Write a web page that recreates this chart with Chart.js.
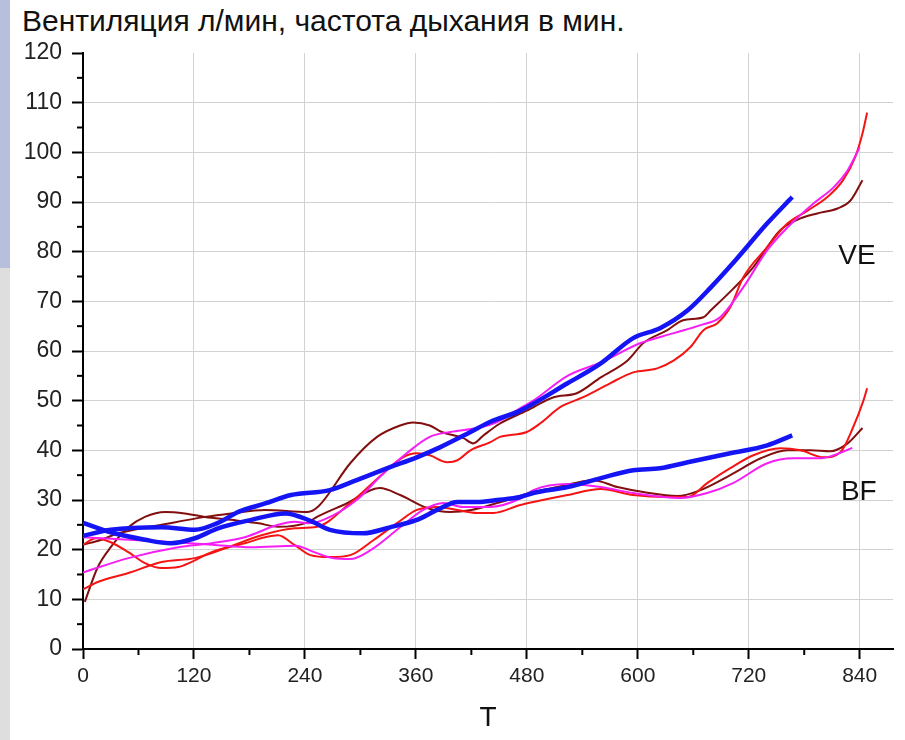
<!DOCTYPE html>
<html>
<head>
<meta charset="utf-8">
<script src="https://cdn.jsdelivr.net/npm/chart.js@4"></script>
<style>
  body { margin: 0; background: #fff; }
  #wrap { position: relative; width: 905px; height: 740px; }
  #strip { position: absolute; left: 0; top: 0; width: 10px; height: 740px;
           background: linear-gradient(#b8bfdc 0, #b8bfdc 268px, #dedede 268px); }
  #title { position: absolute; left: 22px; top: 4px; font: 30px "Liberation Sans", Arial, sans-serif;
           color: #111; white-space: nowrap; }
  canvas { position: absolute; left: 0; top: 0; }
</style>
</head>
<body>
<div id="wrap">
  <div id="strip"></div>
  <div id="title">Вентиляция л/мин, частота дыхания в мин.</div>
  <canvas id="chart" width="905" height="740"></canvas>
</div>
<script>
// Time axis and values, one pair of arrays per curve
const tVeBlue = [0, 30, 85, 121, 146, 168, 197, 225, 267, 296, 332, 361, 386, 416, 440, 473, 524, 560, 595, 624, 654, 679, 703, 740, 767];
const veBlue = [22.8, 24, 24.5, 24, 25.4, 27.6, 29.3, 31, 32, 34, 36.6, 38.6, 40.6, 43.4, 45.7, 48, 53.5, 57.5, 62.6, 64.6, 68.2, 72.8, 77.7, 85.7, 91];

const tBfBlue = [0, 30, 67, 95, 121, 146, 182, 219, 246, 267, 303, 332, 361, 383, 405, 426, 448, 473, 487, 524, 560, 595, 624, 654, 700, 740, 767];
const bfBlue = [25.4, 23.5, 22, 21.3, 22.3, 24.3, 26, 27.3, 25.8, 24, 23.3, 24.5, 26, 28, 29.6, 29.6, 30, 30.6, 31.4, 32.6, 34.4, 36, 36.4, 37.6, 39.4, 41, 43];

const tVeBrown = [0, 20, 38, 85, 132, 160, 197, 243, 255, 289, 318, 343, 357, 375, 388, 411, 422, 433, 451, 480, 509, 534, 560, 589, 606, 632, 649, 671, 679, 703, 725, 754, 776, 794, 816, 830, 843];
const veBrown = [21, 22, 23.3, 25, 26.6, 27.3, 28, 27.6, 28.8, 37.4, 42.7, 45, 45.6, 45, 43.7, 42.5, 41.4, 43, 45.4, 48, 50.7, 51.5, 54.7, 58.1, 61.6, 64.2, 66.2, 66.8, 68.2, 72.5, 76.9, 84.3, 86.7, 87.7, 88.7, 90.3, 94.4];

const tBfBrown = [2, 16, 30, 49, 67, 89, 110, 132, 160, 190, 211, 243, 253, 285, 321, 343, 372, 397, 420, 450, 487, 513, 552, 578, 606, 643, 668, 700, 733, 762, 787, 808, 827, 843];
const bfBrown = [9.5, 16.5, 20.5, 24.5, 26.6, 27.6, 27.3, 26.6, 26, 25.3, 24.6, 25.5, 26.6, 29.3, 32.4, 31, 28.4, 27.6, 28, 29.5, 31.6, 32.6, 34, 32.6, 31.6, 30.8, 32, 35, 38.4, 40, 40, 39.8, 41.4, 44.5];

const tVeRed = [0, 16, 49, 85, 121, 157, 193, 229, 253, 289, 325, 346, 361, 375, 394, 405, 419, 440, 451, 480, 495, 516, 541, 570, 595, 621, 639, 657, 671, 686, 700, 714, 740, 762, 784, 805, 822, 835, 843, 848];
const veRed = [12, 13.5, 15.3, 17.5, 18.3, 20.5, 22.9, 24.3, 24.6, 29.4, 35.4, 38.6, 39.4, 39, 37.6, 38, 40, 41.6, 42.7, 43.7, 45.5, 48.7, 50.7, 53.5, 55.7, 56.5, 58.1, 60.8, 64.2, 65.6, 68.8, 74.8, 80.9, 85.7, 88.3, 91, 94.4, 99, 103.8, 108];

const tBfRed = [0, 14, 30, 49, 67, 85, 103, 117, 139, 175, 197, 211, 229, 246, 267, 289, 314, 340, 361, 383, 405, 426, 444, 473, 487, 524, 560, 595, 632, 654, 675, 700, 725, 754, 776, 801, 819, 833, 844, 848];
const bfRed = [21, 22.3, 21.5, 19.5, 17.3, 16.3, 16.5, 17.5, 19.5, 21.3, 22.5, 22.9, 20.9, 18.9, 18.5, 18.9, 21.9, 25.4, 28, 28.6, 28, 27.4, 27.4, 29, 29.6, 31, 32.2, 31, 30.6, 30.6, 33.4, 36.4, 39, 40.4, 40, 38.6, 39.6, 44.7, 50, 52.5];

const tVeMagenta = [0, 49, 103, 139, 175, 211, 229, 243, 260, 296, 325, 350, 375, 397, 426, 448, 473, 487, 524, 560, 603, 639, 668, 689, 714, 740, 762, 790, 812, 827, 840];
const veMagenta = [15.4, 18.3, 20.5, 21.3, 22.5, 25, 25.6, 25.3, 26, 30, 35.4, 39.4, 42.7, 43.7, 44.5, 45.7, 48.5, 50, 55, 57.7, 61.6, 63.6, 65.2, 66.8, 72.8, 80.3, 84.9, 89.7, 93, 96.4, 101];

const tBfMagenta = [0, 50, 100, 140, 182, 230, 250, 270, 289, 311, 343, 368, 390, 411, 440, 473, 487, 524, 560, 595, 646, 675, 703, 740, 768, 798, 812, 832];
const bfMagenta = [22.5, 22, 21.5, 21, 20.5, 20.8, 19.5, 18.3, 18.1, 19.9, 24.5, 28, 29.4, 28.6, 28.6, 30.3, 32, 33.2, 32.6, 31.4, 30.4, 31.4, 33.4, 37.4, 38.4, 38.4, 39, 40.5];

// Group labels placed in data coordinates [t, value]
const labelVE = [837, 79];
const labelBF = [839, 31.6];

const BLUE = 'rgb(20, 20, 245)';
const BROWN = 'rgb(130, 15, 15)';
const RED = 'rgb(245, 20, 20)';
const MAGENTA = 'rgb(245, 30, 245)';

function pts(ts, vs) {
  return ts.map((t, i) => ({ x: t, y: vs[i] }));
}

function line(ts, vs, color, width) {
  return {
    data: pts(ts, vs),
    borderColor: color,
    borderWidth: width,
    pointRadius: 0,
    fill: false,
    cubicInterpolationMode: 'monotone'
  };
}

// Minor ticks and the VE / BF labels
const extras = {
  id: 'extras',
  afterDraw(chart) {
    const { ctx, scales: { x, y } } = chart;
    ctx.save();
    ctx.strokeStyle = '#000';
    ctx.lineWidth = 2;
    for (let v = 5; v < 120; v += 10) {
      const py = y.getPixelForValue(v);
      ctx.beginPath(); ctx.moveTo(x.left - 6, py); ctx.lineTo(x.left, py); ctx.stroke();
    }
    for (let t = 60; t < 876; t += 120) {
      const px = x.getPixelForValue(t);
      ctx.beginPath(); ctx.moveTo(px, y.bottom); ctx.lineTo(px, y.bottom + 6); ctx.stroke();
    }
    ctx.fillStyle = '#111';
    ctx.font = '28px "Liberation Sans", Arial, sans-serif';
    ctx.textAlign = 'center';
    ctx.textBaseline = 'middle';
    ctx.fillText('VE', x.getPixelForValue(labelVE[0]), y.getPixelForValue(labelVE[1]));
    ctx.fillText('BF', x.getPixelForValue(labelBF[0]), y.getPixelForValue(labelBF[1]));
    ctx.restore();
  }
};

new Chart(document.getElementById('chart'), {
  type: 'line',
  data: {
    datasets: [
      line(tVeBlue, veBlue, BLUE, 4.5),
      line(tBfBlue, bfBlue, BLUE, 4.5),
      line(tVeMagenta, veMagenta, MAGENTA, 2),
      line(tBfMagenta, bfMagenta, MAGENTA, 2),
      line(tVeRed, veRed, RED, 2),
      line(tBfRed, bfRed, RED, 2),
      line(tVeBrown, veBrown, BROWN, 2),
      line(tBfBrown, bfBrown, BROWN, 2)
    ]
  },
  options: {
    responsive: false,
    animation: false,
    layout: { padding: { top: 53, right: 12, left: 0, bottom: 0 } },
    plugins: { legend: { display: false }, tooltip: { enabled: false } },
    scales: {
      x: {
        type: 'linear',
        min: 0,
        max: 876,
        afterFit(scale) { scale.height = 91; },
        ticks: {
          stepSize: 120,
          includeBounds: false,
          padding: 5,
          color: '#222',
          font: { family: '"Liberation Sans", Arial, sans-serif', size: 21 }
        },
        grid: {
          color: ctx => ctx.tick && ctx.tick.value === 0 ? 'rgba(0,0,0,0)' : '#d2d2d2',
          lineWidth: 1,
          tickColor: '#000',
          tickWidth: 2,
          tickLength: 10
        },
        border: { color: '#000', width: 2 },
        title: {
          display: true,
          text: 'T',
          color: '#111',
          font: { family: '"Liberation Sans", Arial, sans-serif', size: 28 },
          padding: { top: 0, bottom: 5 }
        }
      },
      y: {
        min: 0,
        max: 120,
        afterFit(scale) { scale.width = 83; },
        ticks: {
          stepSize: 10,
          padding: 10,
          color: '#222',
          font: { family: '"Liberation Sans", Arial, sans-serif', size: 23 }
        },
        grid: {
          color: ctx => ctx.tick && (ctx.tick.value === 0 || ctx.tick.value === 120) ? 'rgba(0,0,0,0)' : '#d2d2d2',
          lineWidth: 1,
          tickColor: '#000',
          tickWidth: 2,
          tickLength: 11
        },
        border: { color: '#000', width: 2 }
      }
    }
  },
  plugins: [extras]
});
</script>
</body>
</html>
